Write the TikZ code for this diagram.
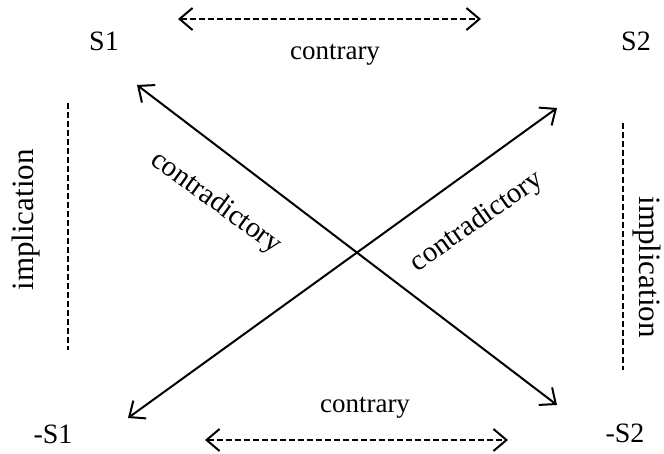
\documentclass[tikz,border=0pt]{standalone}
\usepackage{fontspec}
\setmainfont{Liberation Serif}
\usetikzlibrary{arrows.meta}
\begin{document}
\begin{tikzpicture}[x=1pt,y=-1pt,
  lbl/.style={font=\fontsize{27}{30}\selectfont, inner sep=0pt},
  cornerlbl/.style={font=\fontsize{28}{31}\selectfont, inner sep=0pt},
  impllbl/.style={font=\fontsize{31}{34}\selectfont, inner sep=0pt},
  diaglbl/.style={font=\fontsize{29}{32}\selectfont, inner sep=0pt},
  dashline/.style={line width=2pt, dash pattern=on 6pt off 3pt},
  twoheads/.style={{Straight Barb[length=13pt,width=22pt,line width=2pt]}-{Straight Barb[length=13pt,width=22pt,line width=2pt]}},
  solidline/.style={line width=2pt}]
\useasboundingbox (0,0) rectangle (664,454);
% corner labels
\node[cornerlbl] (s1) at (104,41) {S1};
\node[cornerlbl] (s2) at (636,41) {S2};
\node[cornerlbl] (ns1) at (53,434) {-S1};
\node[cornerlbl] (ns2) at (625,433) {-S2};
% contrary arrows
\coordinate (tl) at (178,19);
\coordinate (tr) at (481,19);
\draw[dashline, twoheads] (tl) -- (tr);
\node[lbl] (ctop) at (335,55) {contrary};
\coordinate (bl) at (205,440);
\coordinate (br) at (508,440);
\draw[dashline, twoheads] (bl) -- (br);
\node[lbl] (cbot) at (365,408) {contrary};
% implication
\coordinate (il1) at (68,103);
\coordinate (il2) at (68,350);
\draw[dashline] (il1) -- (il2);
\node[impllbl, rotate=90] (impl) at (26,220) {implication};
\coordinate (ir1) at (623,123);
\coordinate (ir2) at (623,370);
\draw[dashline] (ir1) -- (ir2);
\node[impllbl, rotate=-90] (impr) at (647,267) {implication};
% contradictory diagonals
\coordinate (d1a) at (137,85);
\coordinate (d1b) at (557,405);
\coordinate (d2a) at (128,418);
\coordinate (d2b) at (557,108);
\draw[solidline, twoheads] (d1a) -- (d1b);
\draw[solidline, twoheads] (d2a) -- (d2b);
\node[diaglbl, rotate=-36] (cdl) at (216,203) {contradictory};
\node[diaglbl, rotate=35] (cdr) at (477,222) {contradictory};
\end{tikzpicture}
\end{document}
